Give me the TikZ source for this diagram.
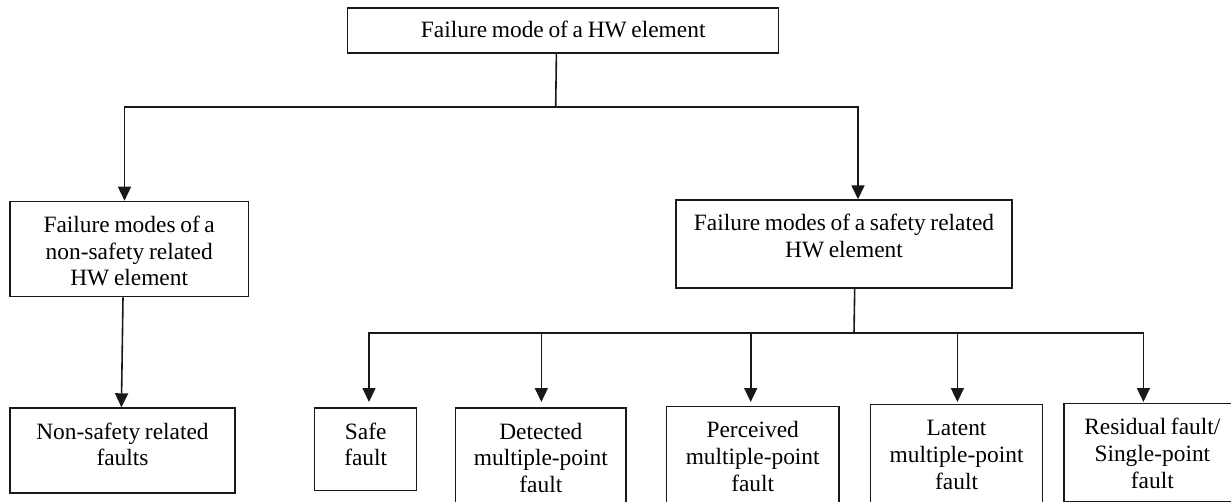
\documentclass[tikz,border=0pt]{standalone}
\usepackage{fontspec}
\setmainfont{Liberation Serif}[WordSpace=0.8]
\usetikzlibrary{arrows.meta}

\begin{document}
\begin{tikzpicture}[
  x=1pt, y=-1pt,
  box/.style={draw=black!90, line width=1.4pt, inner sep=0pt, align=flush center,
    anchor=north west, text height=31pt,
    font=\fontsize{23.4pt}{26.8pt}\selectfont},
  link/.style={draw=black!90, line width=1.6pt},
  arr/.style={link, -{Triangle[length=14pt,width=13pt]}}
]
\useasboundingbox (0,0) rectangle (1231,502);

% hierarchy boxes (north-west corner, width, depth below first baseline)
\node[box, text width=431pt, text height=30pt, text depth=15pt] (top) at (347,7.3)
  {Failure mode of a HW element};
\node[box, text width=238.4pt, text depth=64.3pt] (ns) at (9.3,200.7)
  {Failure modes of a\\non-safety related\\HW element};
\node[box, text width=336pt, text depth=57pt] (sr) at (675.3,199.3)
  {Failure modes of a safety related\\HW element};
\node[box, text width=225pt, text depth=54pt] (nsf) at (9.3,407.3)
  {Non-safety related\\faults};
\node[box, text width=102pt, text depth=51.7pt] (sf) at (314,407.3)
  {Safe\\fault};
\node[box, text width=170.3pt, text depth=70pt] (dm) at (455,407.3)
  {Detected\\multiple-point\\fault};
\node[box, text width=172.6pt, text depth=70pt] (pm) at (665.7,405.7)
  {Perceived\\multiple-point\\fault};
\node[box, text width=171.7pt, text depth=70pt] (lm) at (870,404)
  {Latent\\multiple-point\\fault};
\node[box, text width=176.7pt, text depth=67pt] (rf) at (1063.3,402.7)
  {Residual fault/\\Single-point\\fault};

% branching points
\coordinate (bus1) at (555.7,107.3);
\coordinate (bus2) at (854,333.3);

% first level
\draw[link] ([xshift=-6.8pt]top.south) -- (bus1);
\draw[arr] (bus1) -| ([xshift=-4.7pt]ns.north);
\draw[arr] (bus1) -| ([xshift=14pt]sr.north);

% non-safety branch
\draw[arr] ([xshift=-6.2pt]ns.south) -- ([xshift=-1.1pt]nsf.north);

% safety related branch
\draw[link] ([xshift=10.7pt]sr.south) -- (bus2);
\draw[arr] (bus2) -| ([xshift=3.3pt,yshift=5.3pt]sf.north);
\draw[arr] (bus2) -| ([xshift=0.5pt,yshift=5.3pt]dm.north);
\draw[arr] (bus2) -| ([xshift=-2pt,yshift=3.7pt]pm.north);
\draw[arr] (bus2) -| ([xshift=0.85pt,yshift=2pt]lm.north);
\draw[arr] (bus2) -| ([xshift=-8.95pt,yshift=0.7pt]rf.north);
\end{tikzpicture}
\end{document}
